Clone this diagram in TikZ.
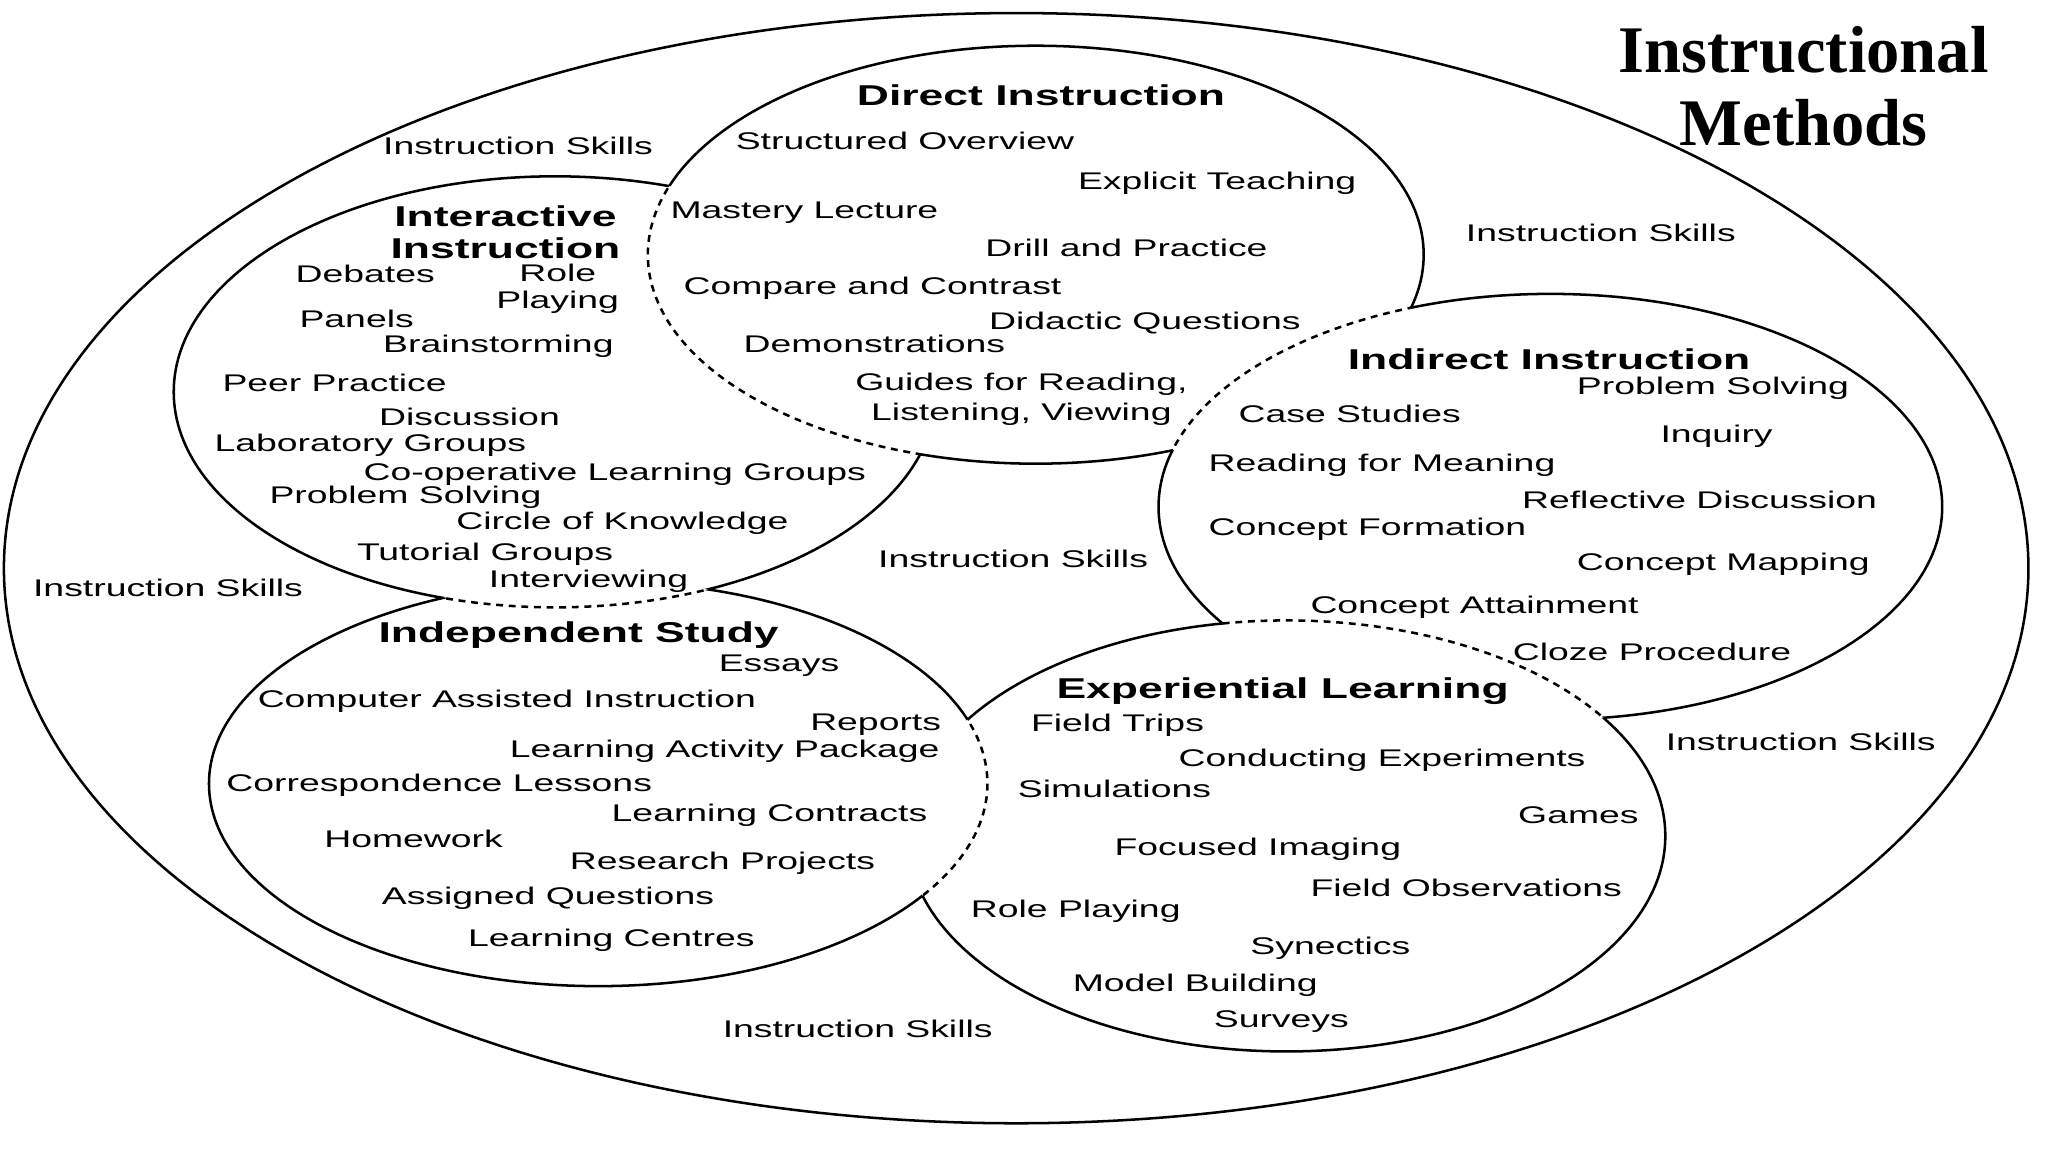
\documentclass[tikz,border=0pt]{standalone}
\usepackage{fontspec}
\setmainfont{Liberation Serif}
\newfontfamily\lab[FakeStretch=1.55]{Liberation Sans}
\begin{document}
\begin{tikzpicture}[x=0.02cm,y=-0.02cm,
  t/.style={font=\lab\fontsize{10.5}{12}\selectfont,anchor=west,inner sep=0pt},
  h/.style={font=\lab\fontsize{12.5}{14}\selectfont\bfseries,inner sep=0pt,align=center},
  ln/.style={line width=1.1pt},
  dl/.style={line width=1.1pt,dash pattern=on 3pt off 2.5pt}]
\useasboundingbox (0,0) rectangle (1568,882);
\fill[white] (0,0) rectangle (1568,882);
\def\eD{(793,195) ellipse [x radius=297,y radius=160]}
\def\eI{(425,300) ellipse [x radius=292,y radius=165]}
\def\eS{(458,600) ellipse [x radius=298,y radius=155]}
\def\eE{(985,640) ellipse [x radius=290,y radius=165]}
\def\eN{(1187,388) ellipse [x radius=300,y radius=163]}
\def\R{(-50,-50) rectangle (1650,950)}
% outer
\draw[ln] (778,435) ellipse [x radius=775,y radius=425];
% generic: #1 ellipse, #2 dashed-in, #3 omitted-in
\newcommand\piece[3]{%
 \begin{scope}[even odd rule]\clip \R #3;
  \begin{scope}\clip \R #2; \draw[ln] #1; \end{scope}
  \begin{scope}[nonzero rule]\clip #2; \draw[dl] #1; \end{scope}
 \end{scope}}
\piece{\eD}{\eI}{\eN}
\piece{\eI}{\eS}{\eD}
\piece{\eS}{\eE}{\eI}
\piece{\eE}{\eN}{\eS}
\piece{\eN}{\eD}{\eE}
% title
\node[font=\fontsize{29}{32}\selectfont\bfseries,align=center] (title) at (1381,66) {Instructional\\Methods};
% instruction skills
\node[t] (s1) at (293,112) {Instruction Skills};
\node[t] (s2) at (1122,178) {Instruction Skills};
\node[t] (s3) at (25,450) {Instruction Skills};
\node[t] (s4) at (672,428) {Instruction Skills};
\node[t] (s5) at (1275,568) {Instruction Skills};
\node[t] (s6) at (553,788) {Instruction Skills};
% direct
\node[h] (hD) at (797,73) {Direct Instruction};
\node[t] (d1) at (563,108) {Structured Overview};
\node[t] (d2) at (825,140) {Explicit Teaching};
\node[t] (d3) at (513,163) {Mastery Lecture};
\node[t] (d4) at (754,190) {Drill and Practice};
\node[t] (d5) at (523,221) {Compare and Contrast};
\node[t] (d6) at (757,247) {Didactic Questions};
\node[t] (d7) at (569,263) {Demonstrations};
\node[t,align=center,anchor=center] (d8) at (782,306) {Guides for Reading,\\[1pt]Listening, Viewing};
% interactive
\node[h] (hI) at (387,178) {Interactive\\Instruction};
\node[t] (i1) at (226,210) {Debates};
\node[t,align=center,anchor=center] (i2) at (427,221) {Role\\Playing};
\node[t] (i3) at (229,244) {Panels};
\node[t] (i4) at (293,265) {Brainstorming};
\node[t] (i5) at (170,293) {Peer Practice};
\node[t] (i6) at (290,319) {Discussion};
\node[t] (i7) at (164,341) {Laboratory Groups};
\node[t] (i8) at (278,363) {Co-operative Learning Groups};
\node[t] (i9) at (206,381) {Problem Solving};
\node[t] (i10) at (349,401) {Circle of Knowledge};
\node[t] (i11) at (273,424) {Tutorial Groups};
\node[t] (i12) at (374,445) {Interviewing};
% indirect
\node[h] (hN) at (1186,275) {Indirect Instruction};
\node[t] (n1) at (1207,297) {Problem Solving};
\node[t] (n2) at (948,317) {Case Studies};
\node[t] (n3) at (1271,334) {Inquiry};
\node[t] (n4) at (925,356) {Reading for Meaning};
\node[t] (n5) at (1165,383) {Reflective Discussion};
\node[t] (n6) at (925,405) {Concept Formation};
\node[t] (n7) at (1207,432) {Concept Mapping};
\node[t] (n8) at (1003,465) {Concept Attainment};
\node[t] (n9) at (1158,499) {Cloze Procedure};
% independent
\node[h] (hS) at (443,486) {Independent Study};
\node[t] (p1) at (550,510) {Essays};
\node[t] (p2) at (197,537) {Computer Assisted Instruction};
\node[t] (p3) at (620,555) {Reports};
\node[t] (p4) at (390,575) {Learning Activity Package};
\node[t] (p5) at (173,601) {Correspondence Lessons};
\node[t] (p6) at (468,624) {Learning Contracts};
\node[t] (p7) at (248,642) {Homework};
\node[t] (p8) at (436,661) {Research Projects};
\node[t] (p9) at (292,688) {Assigned Questions};
\node[t] (p10) at (358,720) {Learning Centres};
% experiential
\node[h] (hE) at (982,529) {Experiential Learning};
\node[t] (e1) at (789,555) {Field Trips};
\node[t] (e2) at (902,582) {Conducting Experiments};
\node[t] (e3) at (779,604) {Simulations};
\node[t] (e4) at (1162,624) {Games};
\node[t] (e5) at (853,650) {Focused Imaging};
\node[t] (e6) at (1003,680) {Field Observations};
\node[t] (e7) at (743,698) {Role Playing};
\node[t] (e8) at (957,726) {Synectics};
\node[t] (e9) at (821,754) {Model Building};
\node[t] (e10) at (929,782) {Surveys};
\end{tikzpicture}
\end{document}
